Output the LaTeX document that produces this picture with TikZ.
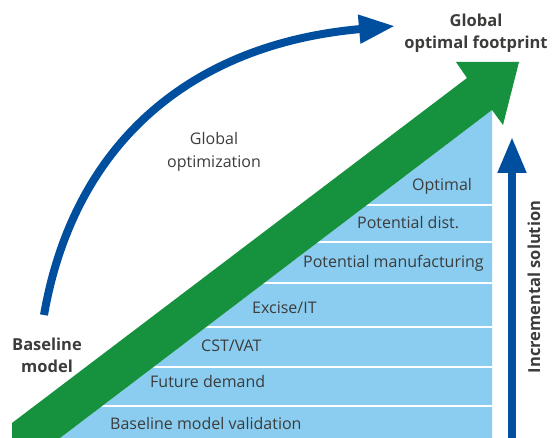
\documentclass[tikz,border=0pt]{standalone}
\usepackage{fontspec}
\setmainfont{Open Sans}
\usetikzlibrary{arrows.meta}

\definecolor{bandblue}{RGB}{138,205,240}
\definecolor{pathgreen}{RGB}{22,146,62}
\definecolor{deepblue}{RGB}{0,79,158}
\definecolor{labelgray}{RGB}{60,60,59}

\begin{document}
\begin{tikzpicture}[x=1pt,y=-1pt,
  band label/.style={anchor=base west,inner sep=0pt,text=labelgray,
    font=\fontsize{16}{20}\selectfont},
  plain label/.style={align=center,inner sep=0pt,text=labelgray,
    font=\fontsize{16}{23}\selectfont},
  bold label/.style={align=center,inner sep=0pt,text=labelgray,
    font=\fontsize{16.5}{22}\selectfont\bfseries},
  blue arrow/.style={draw=deepblue,line width=8pt,
    -{Triangle[length=36pt,width=27pt]}}]

  \useasboundingbox (0,0) rectangle (552,438);

  % Stacked steps under the diagonal

  \fill [bandblue] (60,438) -- (492,110) -- (492,438) -- cycle;
  \foreach \y in {205,242,283,327,367,406}
    \draw [white,line width=2pt] (40,\y) -- (492,\y);

  \node [band label] (s-opt)  at (412,191) {Optimal};
  \node [band label] (s-dist) at (357,229) {Potential dist.};
  \node [band label] (s-man)  at (303,268) {Potential manufacturing};
  \node [band label] (s-exc)  at (252,314) {Excise/IT};
  \node [band label] (s-vat)  at (201,352) {CST/VAT};
  \node [band label] (s-dem)  at (150,388) {Future demand};
  \node [band label] (s-val)  at (110,430) {Baseline model validation};

  % Diagonal green arrow

  \fill [pathgreen] (12,423) -- (467,78) -- (456,62) -- (519,62)
    -- (503,125) -- (492,110) -- (60,438) -- (12,438) -- cycle;

  % Global optimization arc

  \coordinate (arc-start) at (44,315);
  \coordinate (arc-end) at (395,26);
  \draw [blue arrow] (arc-start) .. controls (74,143) and (191,44) .. (arc-end);

  % Incremental solution arrow

  \coordinate (inc-start) at (512,438);
  \coordinate (inc-end) at (512,137);
  \draw [blue arrow] (inc-start) -- (inc-end);

  \node [bold label] (goal) at (476,33) {Global\\optimal footprint};
  \node [bold label] (base) at (47,355) {Baseline\\model};
  \node [plain label] (glob) at (214,152) {Global\\optimization};
  \node [bold label,rotate=90] (incr) at (534,287) {Incremental solution};
\end{tikzpicture}
\end{document}
